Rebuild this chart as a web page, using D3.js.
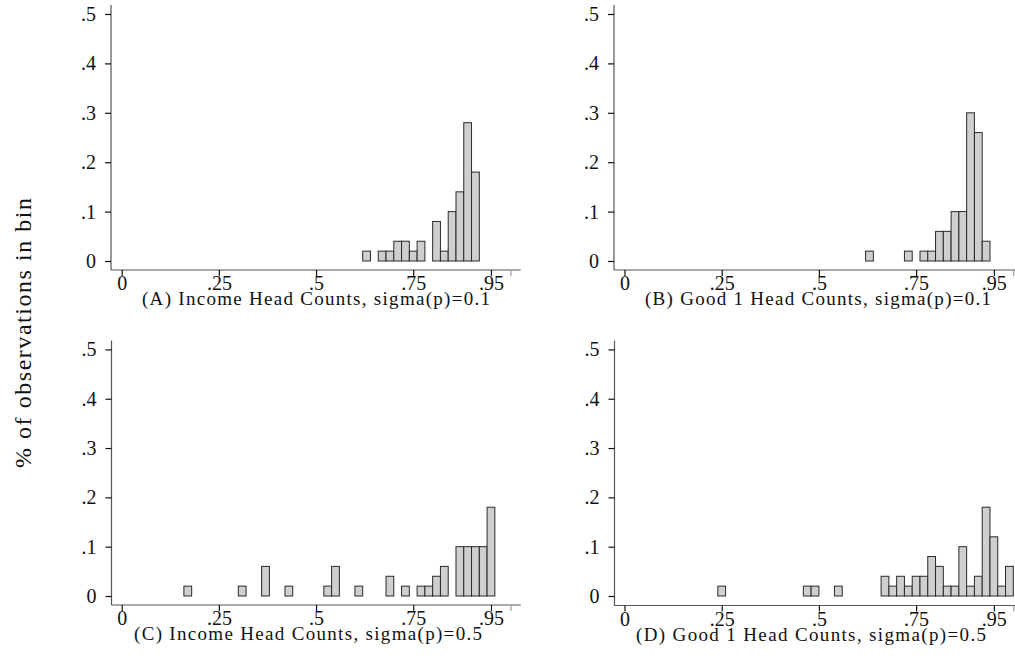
<!DOCTYPE html>
<html>
<head>
<meta charset="utf-8">
<script src="https://cdn.jsdelivr.net/npm/d3@7"></script>
<style>
  html, body { margin: 0; padding: 0; background: #fff; }
  svg { display: block; }
  text { font-family: "Liberation Serif", "Times New Roman", serif; fill: #111; }
</style>
</head>
<body>
<svg id="chart" width="1015" height="660"></svg>
<script>
// ---- data (share of observations per bin, bin width 0.02) ----
const binWidth = 0.02;
const titles = [
  "(A) Income Head Counts, sigma(p)=0.1",
  "(B) Good 1 Head Counts, sigma(p)=0.1",
  "(C) Income Head Counts, sigma(p)=0.5",
  "(D) Good 1 Head Counts, sigma(p)=0.5"
];
const binStarts = [0.62, 0.62, 0.16, 0.24];
const panelA = [0.02,0,0.02,0.02,0.04,0.04,0.02,0.04,0,0.08,0.02,0.10,0.14,0.28,0.18];
const panelB = [0.02,0,0,0,0,0.02,0,0.02,0.02,0.06,0.06,0.10,0.10,0.30,0.26,0.04];
const panelC = [0.02,0,0,0,0,0,0,0.02,0,0,0.06,0,0,0.02,0,0,0,0,0.02,0.06,
                0,0,0.02,0,0,0,0.04,0,0.02,0,0.02,0.02,0.04,0.06,0,0.10,0.10,0.10,0.10,0.18];
const panelD = [0.02,0,0,0,0,0,0,0,0,0,0,0.02,0.02,0,0,0.02,0,0,0,0,
                0,0.04,0.02,0.04,0.02,0.04,0.04,0.08,0.06,0.02,0.02,0.10,0.02,0.04,0.18,0.12,0.02,0.06];
const xTicks = [0, 0.25, 0.5, 0.75, 0.95];
const xTickLabels = ["0", ".25", ".5", ".75", ".95"];
const xExtraTick = [1];
const yTicks = [0, 0.1, 0.2, 0.3, 0.4, 0.5];
const yTickLabels = ["0", ".1", ".2", ".3", ".4", ".5"];
const yTitle = "% of observations in bin";

// ---- layout ----
const svg = d3.select("#chart");
const panels = [
  {vals: panelA, x0: 121.7, x1: 510.4, yz: 261, yt: 14,    axisX: 111, axisY: 270, rightEnd: 520.7, titleX: 316},
  {vals: panelB, x0: 624.5, x1: 1013.3, yz: 261, yt: 14,   axisX: 614, axisY: 270, rightEnd: 1020, titleX: 818},
  {vals: panelC, x0: 121.7, x1: 510.4, yz: 596, yt: 349.4, axisX: 111.5, axisY: 605, rightEnd: 520.7, titleX: 308},
  {vals: panelD, x0: 624.5, x1: 1013.3, yz: 596, yt: 349.4, axisX: 614.5, axisY: 605.5, rightEnd: 1020, titleX: 811}
];
const titleLens = [348, 346, 348, 350];

panels.forEach((p, i) => {
  const g = svg.append("g");
  const x = d3.scaleLinear().domain([0, 1]).range([p.x0, p.x1]);
  const y = d3.scaleLinear().domain([0, 0.5]).range([p.yz, p.yt]);
  const pad = (p.yz - p.yt) / 0.5 * 0.018;

  const bins = p.vals.map((v, k) => ({x: binStarts[i] + k * binWidth, v}))
                     .filter(d => d.v > 0);
  g.selectAll("rect.bar").data(bins).enter().append("rect")
    .attr("class", "bar")
    .attr("x", d => x(d.x))
    .attr("y", d => y(d.v))
    .attr("width", d => x(d.x + binWidth) - x(d.x))
    .attr("height", d => y(0) - y(d.v))
    .attr("fill", "#cfcfcf")
    .attr("stroke", "#2a2a2a")
    .attr("stroke-width", 1);

  // axis lines
  g.append("line").attr("x1", p.axisX).attr("x2", p.rightEnd)
    .attr("y1", p.axisY).attr("y2", p.axisY).attr("stroke", "#555").attr("stroke-width", 1.2);
  g.append("line").attr("x1", p.axisX).attr("x2", p.axisX)
    .attr("y1", p.axisY).attr("y2", p.yt - pad).attr("stroke", "#555").attr("stroke-width", 1.2);

  // x axis
  const xa = g.append("g").attr("transform", `translate(0,${p.axisY})`)
    .call(d3.axisBottom(x).tickValues(xTicks).tickSize(6).tickSizeOuter(0)
      .tickFormat((d, k) => xTickLabels[k]));
  xa.attr("font-size", null).attr("font-family", null);
  xa.select(".domain").remove();
  xa.selectAll(".tick line").attr("stroke", "#111").attr("stroke-width", 1.2);
  xa.selectAll(".tick text").attr("dy", "0").attr("y", 20)
    .attr("fill", "#111").style("font-size", "20px").style("font-family", '"Liberation Serif", serif');
  const xb = g.append("g").attr("transform", `translate(0,${p.axisY})`)
    .call(d3.axisBottom(x).tickValues(xExtraTick).tickSize(6).tickFormat(""));
  xb.select(".domain").remove();
  xb.selectAll(".tick line").attr("stroke", "#999").attr("stroke-width", 1.2);

  // y axis
  const ya = g.append("g").attr("transform", `translate(${p.axisX},0)`)
    .call(d3.axisLeft(y).tickValues(yTicks).tickSize(6).tickSizeOuter(0)
      .tickFormat((d, k) => yTickLabels[k]));
  ya.attr("font-size", null).attr("font-family", null);
  ya.select(".domain").remove();
  ya.selectAll(".tick line").attr("stroke", "#111").attr("stroke-width", 1.2);
  ya.selectAll(".tick text").attr("x", -15)
    .attr("fill", "#111").style("font-size", "20px").style("font-family", '"Liberation Serif", serif');

  // panel title
  g.append("text")
    .attr("x", p.titleX)
    .attr("y", p.axisY + 35)
    .attr("text-anchor", "middle")
    .style("font-size", "19px")
    .attr("textLength", titleLens[i])
    .attr("lengthAdjust", "spacing")
    .text(titles[i]);
});

svg.append("text")
  .attr("transform", "translate(31,333) rotate(-90)")
  .attr("text-anchor", "middle")
  .style("font-size", "24px")
  .attr("textLength", 270)
  .attr("lengthAdjust", "spacing")
  .text(yTitle);
</script>
</body>
</html>
